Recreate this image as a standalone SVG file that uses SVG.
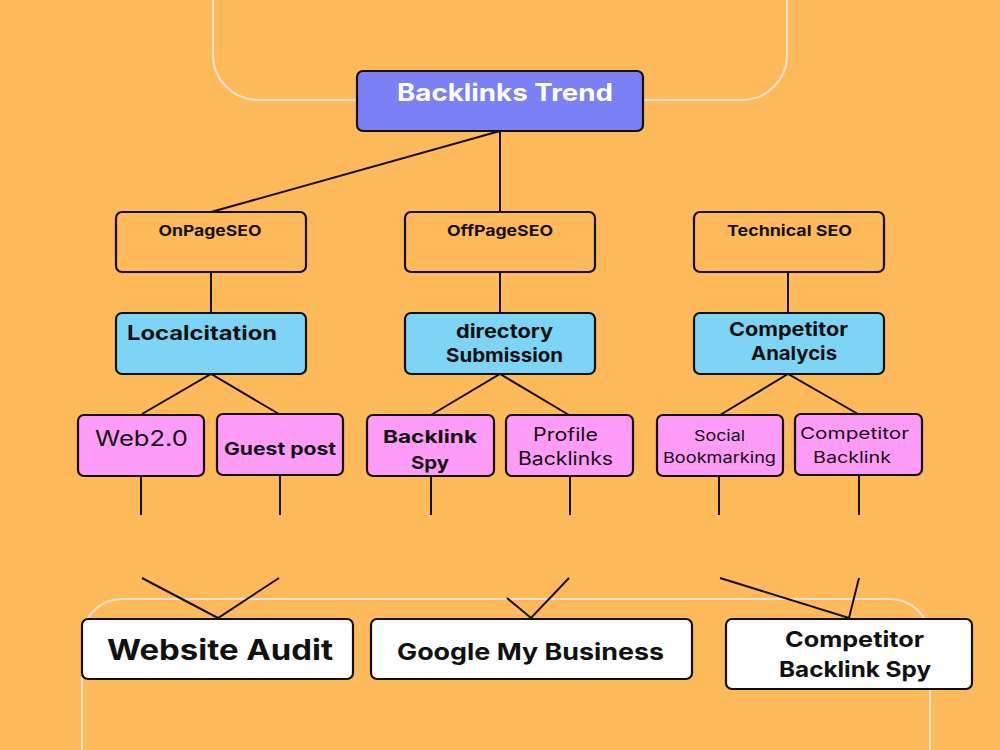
<svg xmlns="http://www.w3.org/2000/svg" width="1000" height="750" viewBox="0 0 1000 750">
<style>
.box{stroke:#111;stroke-width:2.2}
.lvl2{fill:none}
.blue{fill:#7DD4F5}
.pink{fill:#FF9CF8}
.white{fill:#ffffff}
.deco{fill:none;stroke:#E6DFD3;stroke-width:2}
.conn line,.conn polyline{stroke:#111;stroke-width:2;fill:none}
text{font-family:Inter,"Open Sans","Liberation Sans",sans-serif;fill:#111;text-anchor:middle}
.b{font-weight:700}
.r{font-weight:400}
</style>
<rect width="1000" height="750" fill="#FEBA5A"/>
<path class="deco" d="M213,-10 V55 A45,45 0 0 0 258,100 H742 A45,45 0 0 0 787,55 V-10"/>
<path class="deco" d="M82,760 V639 A40,40 0 0 1 122,599 H890 A40,40 0 0 1 930,639 V760"/>

<g class="conn">
<line x1="500" y1="131" x2="211" y2="212"/>
<line x1="500" y1="131" x2="500" y2="212"/>
<line x1="211" y1="272" x2="211" y2="313"/>
<line x1="500" y1="272" x2="500" y2="313"/>
<line x1="788" y1="272" x2="788" y2="313"/>
<polyline points="142,414 211,374 279,414"/>
<polyline points="431,415 500,374 569,415"/>
<polyline points="720,415 788,374 858,414"/>
<line x1="141" y1="476" x2="141" y2="515"/>
<line x1="280" y1="475" x2="280" y2="515"/>
<line x1="431" y1="476" x2="431" y2="515"/>
<line x1="570" y1="476" x2="570" y2="515"/>
<line x1="719" y1="476" x2="719" y2="515"/>
<line x1="859" y1="475" x2="859" y2="515"/>
<polyline points="142,578 218,618 279,578"/>
<polyline points="507,598 531,618 569,578"/>
<polyline points="720,578 849,618 859,578"/>
</g>

<g id="backlinks-trend">
<rect class="box" x="357" y="71" width="286" height="60" rx="6" fill="#7B80F5"/>
<text class="b" x="505" y="101" font-size="24" textLength="216" lengthAdjust="spacingAndGlyphs" style="fill:#fff">Backlinks Trend</text>
</g>

<g id="onpageseo">
<rect class="box lvl2" x="116" y="212" width="190" height="60" rx="6"/>
<text class="b" x="210" y="236" font-size="15" textLength="103" lengthAdjust="spacingAndGlyphs">OnPageSEO</text>
</g>
<g id="offpageseo">
<rect class="box lvl2" x="405" y="212" width="190" height="60" rx="6"/>
<text class="b" x="500" y="236" font-size="15" textLength="106" lengthAdjust="spacingAndGlyphs">OffPageSEO</text>
</g>
<g id="technical-seo">
<rect class="box lvl2" x="694" y="212" width="190" height="60" rx="6"/>
<text class="b" x="789.5" y="236" font-size="15" textLength="125" lengthAdjust="spacingAndGlyphs">Technical SEO</text>
</g>

<g id="localcitation">
<rect class="box blue" x="116" y="313" width="190" height="61" rx="6"/>
<text class="b" x="202" y="340" font-size="20" textLength="150" lengthAdjust="spacingAndGlyphs">Localcitation</text>
</g>
<g id="directory-submission">
<rect class="box blue" x="405" y="313" width="190" height="61" rx="6"/>
<text class="b" x="504.5" y="338" font-size="19" textLength="97" lengthAdjust="spacingAndGlyphs">directory</text>
<text class="b" x="504.5" y="362" font-size="19" textLength="117" lengthAdjust="spacingAndGlyphs">Submission</text>
</g>
<g id="competitor-analycis">
<rect class="box blue" x="694" y="313" width="190" height="61" rx="6"/>
<text class="b" x="788.5" y="336" font-size="19" textLength="119" lengthAdjust="spacingAndGlyphs">Competitor</text>
<text class="b" x="794" y="360" font-size="19" textLength="86" lengthAdjust="spacingAndGlyphs">Analycis</text>
</g>

<g id="web20">
<rect class="box pink" x="78" y="415" width="126" height="61" rx="6"/>
<text class="r" x="141.5" y="446" font-size="21" textLength="93" lengthAdjust="spacingAndGlyphs">Web2.0</text>
</g>
<g id="guest-post">
<rect class="box pink" x="217" y="414" width="126" height="61" rx="6"/>
<text class="b" x="280" y="455" font-size="17" textLength="112" lengthAdjust="spacingAndGlyphs">Guest post</text>
</g>
<g id="backlink-spy">
<rect class="box pink" x="367" y="415" width="127" height="61" rx="6"/>
<text class="b" x="430" y="443" font-size="18" textLength="94" lengthAdjust="spacingAndGlyphs">Backlink</text>
<text class="b" x="430" y="469" font-size="18" textLength="38" lengthAdjust="spacingAndGlyphs">Spy</text>
</g>
<g id="profile-backlinks">
<rect class="box pink" x="506" y="415" width="127" height="61" rx="6"/>
<text class="r" x="565.5" y="441" font-size="18" textLength="65" lengthAdjust="spacingAndGlyphs">Profile</text>
<text class="r" x="565.5" y="465" font-size="18" textLength="95" lengthAdjust="spacingAndGlyphs">Backlinks</text>
</g>
<g id="social-bookmarking">
<rect class="box pink" x="657" y="415" width="126" height="61" rx="6"/>
<text class="r" x="719.5" y="441" font-size="15" textLength="51" lengthAdjust="spacingAndGlyphs">Social</text>
<text class="r" x="719.5" y="463" font-size="15" textLength="113" lengthAdjust="spacingAndGlyphs">Bookmarking</text>
</g>
<g id="competitor-backlink">
<rect class="box pink" x="795" y="414" width="127" height="61" rx="6"/>
<text class="r" x="854.5" y="439" font-size="16" textLength="109" lengthAdjust="spacingAndGlyphs">Competitor</text>
<text class="r" x="852" y="463" font-size="16" textLength="78" lengthAdjust="spacingAndGlyphs">Backlink</text>
</g>

<g id="website-audit">
<rect class="box white" x="82" y="619" width="271" height="60" rx="6"/>
<text class="b" x="220" y="660" font-size="28" textLength="226" lengthAdjust="spacingAndGlyphs">Website Audit</text>
</g>
<g id="google-my-business">
<rect class="box white" x="371" y="619" width="321" height="60" rx="6"/>
<text class="b" x="530.5" y="660" font-size="23" textLength="267" lengthAdjust="spacingAndGlyphs">Google My Business</text>
</g>
<g id="competitor-backlink-spy">
<rect class="box white" x="726" y="619" width="246" height="70" rx="6"/>
<text class="b" x="854.5" y="647" font-size="22" textLength="139" lengthAdjust="spacingAndGlyphs">Competitor</text>
<text class="b" x="855" y="677" font-size="22" textLength="152" lengthAdjust="spacingAndGlyphs">Backlink Spy</text>
</g>
</svg>
